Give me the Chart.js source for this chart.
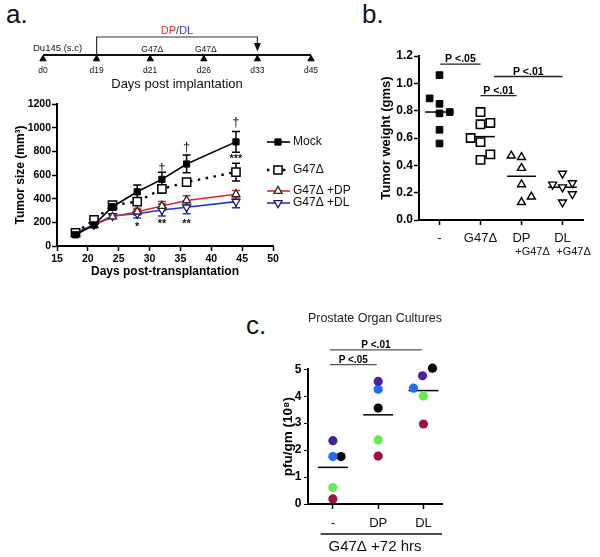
<!DOCTYPE html>
<html>
<head>
<meta charset="utf-8">
<script src="https://cdn.jsdelivr.net/npm/chart.js@4.4.0/dist/chart.umd.min.js"></script>
<style>
html,body{margin:0;padding:0;background:#fff;}
#wrap{position:relative;width:600px;height:557px;overflow:hidden;background:#fff;font-family:'Liberation Sans',Arial,Helvetica,sans-serif;}
#wrap canvas{position:absolute;}
.lab{position:absolute;font-size:26px;line-height:26px;color:#111;white-space:nowrap;}
</style>
</head>
<body>
<div id="wrap">
  <div class="lab" style="left:6px;top:1px">a.</div>
  <div class="lab" style="left:362px;top:1px">b.</div>
  <div class="lab" style="left:246px;top:312px">c.</div>
  <canvas id="tl" width="330" height="92" style="left:0;top:0;width:330px;height:92px"></canvas>
  <canvas id="ca" width="370" height="195" style="left:0;top:90px;width:370px;height:195px"></canvas>
  <canvas id="cb" width="230" height="225" style="left:370px;top:40px;width:230px;height:225px"></canvas>
  <canvas id="cc" width="240" height="257" style="left:240px;top:300px;width:240px;height:257px"></canvas>
</div>
<script>
// ---------------- DATA ----------------
// timeline (schematic)
const timelineDays = ['d0', 'd19', 'd21', 'd26', 'd33', 'd45'];
const timelineEvents = [
  {day: 'd0', text: 'Du145 (s.c)', align: 'left'},
  {day: 'd21', text: 'G47Δ', align: 'center'},
  {day: 'd26', text: 'G47Δ', align: 'center'}
];
const treatmentStart = 'd19';
const treatmentEnd = 'd33';

// panel a: tumor growth
const growthDays = [18, 21, 24, 28, 32, 36, 44];
const mockSize = [95, 178, 332, 458, 563, 693, 880];
const mockErr  = [12, 18, 30, 58, 60, 75, 88];
const g47Size  = [112, 220, 345, 375, 482, 540, 625];
const g47Err   = [12, 22, 25, 30, 35, 28, 75];
const dpSize   = [100, 175, 248, 290, 338, 385, 437];
const dpErr    = [10, 15, 18, 28, 38, 40, 32];
const dlSize   = [112, 180, 255, 272, 304, 327, 375];
const dlErr    = [10, 15, 18, 35, 50, 55, 52];
const growthMarks = [
  {x: 32, y: 655, text: '†'}, {x: 36, y: 835, text: '†'}, {x: 44, y: 1045, text: '†'},
  {x: 44, y: 735, text: '***'}, {x: 28, y: 165, text: '*'},
  {x: 32, y: 190, text: '**'}, {x: 36, y: 190, text: '**'}
];

// panel b: tumor weight
const weightGroups = ['-', 'G47Δ', 'DP', 'DL'];
const weightSubLabels = ['', '', '+G47Δ', '+G47Δ'];
const mockWeight  = [1.06, 0.89, 0.85, 0.78, 0.79, 0.66, 0.56];
const mockWeightX = [1, 0.76, 1, 1, 1.25, 1, 1];
const g47Weight   = [0.79, 0.70, 0.71, 0.60, 0.57, 0.48, 0.44];
const g47WeightX  = [2, 2, 2.24, 1.76, 2, 2.24, 2];
const dpWeight    = [0.47, 0.46, 0.38, 0.26, 0.13, 0.17];
const dpWeightX   = [2.75, 3, 3, 3, 3, 3.24];
const dlWeight    = [0.34, 0.26, 0.27, 0.24, 0.19, 0.13];
const dlWeightX   = [4, 3.76, 4.24, 4, 4.24, 4];
const weightMeans = [0.79, 0.61, 0.32, 0.24];
const weightSig = [
  {from: 1.02, to: 2, y: 1.14, label: 'P <.05'},
  {from: 2.33, to: 4, y: 1.05, label: 'P <.01'},
  {from: 2, to: 2.88, y: 0.91, label: 'P <.01'}
];

// panel c: prostate organ cultures (one colour per donor)
const cultureGroups = ['-', 'DP', 'DL'];
const purpleTiter = [2.35, 4.55, 4.76];
const blueTiter   = [1.76, 4.26, 4.30];
const blackTiter  = [1.76, 3.56, 5.04];
const greenTiter  = [0.61, 2.38, 4.01];
const maroonTiter = [0.19, 1.78, 2.97];
const purpleX = [1, 2, 2.98];
const blueX   = [1, 2, 2.78];
const blackX  = [1.18, 2, 3.2];
const greenX  = [1, 2, 3];
const maroonX = [1, 2, 3];
const titerMeans = [1.36, 3.31, 4.21];
const titerSig = [
  {from: 0.93, to: 2.97, y: 5.72, label: 'P <.01'},
  {from: 0.93, to: 1.97, y: 5.17, label: 'P <.05'}
];

// ---------------- HELPERS ----------------
const FONT = "'Liberation Sans', Arial, Helvetica, sans-serif";
Chart.defaults.font.family = FONT;
Chart.defaults.color = '#000';
const pts = (xs, ys) => xs.map((x, i) => ({x: x, y: ys[i]}));
const base = {responsive: false, animation: false, devicePixelRatio: 1, events: []};
const plain = v => String(v);

function meanLines(means, half) {
  return {id: 'means', beforeDatasetsDraw(chart) {
    const {ctx, scales: {x, y}} = chart;
    ctx.save(); ctx.strokeStyle = '#000'; ctx.lineWidth = 1.5;
    means.forEach((m, i) => {
      const yy = y.getPixelForValue(m);
      ctx.beginPath();
      ctx.moveTo(x.getPixelForValue(i + 1 - half), yy);
      ctx.lineTo(x.getPixelForValue(i + 1 + half), yy);
      ctx.stroke();
    });
    ctx.restore();
  }};
}
function sigBars(list, color, size) {
  return {id: 'sig', afterDraw(chart) {
    const {ctx, scales: {x, y}} = chart;
    ctx.save();
    list.forEach(s => {
      const yy = y.getPixelForValue(s.y);
      const x0 = x.getPixelForValue(s.from), x1 = x.getPixelForValue(s.to);
      ctx.strokeStyle = color; ctx.lineWidth = 1.3;
      ctx.beginPath(); ctx.moveTo(x0, yy); ctx.lineTo(x1, yy); ctx.stroke();
      ctx.fillStyle = '#000'; ctx.font = 'bold ' + size + 'px ' + FONT;
      ctx.textAlign = 'center'; ctx.textBaseline = 'alphabetic';
      ctx.fillText(s.label, (x0 + x1) / 2, yy - 2);
    });
    ctx.restore();
  }};
}

// ---------------- TIMELINE ----------------
const timelinePlugin = {
  id: 'timeline',
  beforeDatasetsDraw(chart) {
    const {ctx, scales: {x, y}} = chart;
    const px = d => x.getPixelForValue(timelineDays.indexOf(d));
    const line = y.getPixelForValue(0) - 4;
    ctx.save();
    ctx.strokeStyle = '#111'; ctx.lineWidth = 2;
    ctx.beginPath();
    ctx.moveTo(px(timelineDays[0]), line);
    ctx.lineTo(px(timelineDays[timelineDays.length - 1]), line);
    ctx.stroke();
    // treatment bracket
    const top = line - 18, xs = px(treatmentStart), xe = px(treatmentEnd);
    ctx.strokeStyle = '#333'; ctx.lineWidth = 1.2;
    ctx.beginPath();
    ctx.moveTo(xs, line); ctx.lineTo(xs, top); ctx.lineTo(xe, top); ctx.lineTo(xe, line - 8);
    ctx.stroke();
    ctx.fillStyle = '#111';
    ctx.beginPath(); ctx.moveTo(xe - 3.5, line - 12); ctx.lineTo(xe + 3.5, line - 12); ctx.lineTo(xe, line - 3.5); ctx.closePath(); ctx.fill();
    // DP/DL label
    ctx.font = '11px ' + FONT; ctx.textBaseline = 'middle'; ctx.textAlign = 'left';
    const parts = [['DP', '#e3262b'], ['/', '#333'], ['DL', '#2b3fd4']];
    const total = parts.reduce((s, p) => s + ctx.measureText(p[0]).width, 0);
    let cx = (xs + xe) / 2 - total / 2;
    parts.forEach(p => { ctx.fillStyle = p[1]; ctx.fillText(p[0], cx, top - 6); cx += ctx.measureText(p[0]).width; });
    // event labels
    ctx.fillStyle = '#111';
    timelineEvents.forEach(e => {
      if (e.align === 'left') {
        ctx.font = '9.5px ' + FONT; ctx.textAlign = 'left';
        ctx.fillText(e.text, px(e.day) - 10, line - 7);
      } else {
        ctx.font = '8.5px ' + FONT; ctx.textAlign = 'center';
        ctx.fillText(e.text, px(e.day) + 2, line - 5);
      }
    });
    ctx.restore();
  }
};
new Chart(document.getElementById('tl'), {
  type: 'line',
  data: {labels: timelineDays, datasets: [{
    data: timelineDays.map(() => 0), showLine: false, clip: false,
    pointStyle: 'triangle', pointRadius: 3.6, pointBackgroundColor: '#000', pointBorderColor: '#000', pointBorderWidth: 1
  }]},
  options: Object.assign({}, base, {
    layout: {padding: {left: 43, right: 19, top: 40, bottom: 0}},
    plugins: {legend: {display: false}, tooltip: {enabled: false}},
    scales: {
      x: {type: 'category', offset: false,
          grid: {display: false, drawTicks: false}, border: {display: false},
          ticks: {font: {size: 8.5}, padding: 6.6, maxRotation: 0, autoSkip: false, color: '#111'},
          title: {display: true, text: 'Days post implantation', font: {size: 13}, color: '#111', padding: {top: 0, bottom: 0}},
          afterFit(s) { s.height = 33; }},
      y: {display: false, min: 0, max: 1}
    }
  }),
  plugins: [timelinePlugin]
});

// ---------------- PANEL A ----------------
const errorBars = {
  id: 'errorBars',
  beforeDatasetsDraw(chart) {
    const {ctx, scales: {x, y}} = chart;
    chart.data.datasets.forEach(ds => {
      ctx.save(); ctx.strokeStyle = ds.errColor; ctx.lineWidth = 1.5;
      ds.data.forEach((p, j) => {
        const xx = x.getPixelForValue(p.x);
        const y0 = y.getPixelForValue(p.y - ds.errValues[j]);
        const y1 = y.getPixelForValue(p.y + ds.errValues[j]);
        ctx.beginPath();
        ctx.moveTo(xx, y0); ctx.lineTo(xx, y1);
        ctx.moveTo(xx - 4, y0); ctx.lineTo(xx + 4, y0);
        ctx.moveTo(xx - 4, y1); ctx.lineTo(xx + 4, y1);
        ctx.stroke();
      });
      ctx.restore();
    });
  }
};
const growthMarkPlugin = {
  id: 'growthMarks',
  afterDatasetsDraw(chart) {
    const {ctx, scales: {x, y}} = chart;
    ctx.save(); ctx.fillStyle = '#111'; ctx.textAlign = 'center'; ctx.textBaseline = 'middle';
    growthMarks.forEach(m => {
      ctx.font = (m.text === '†' ? '13px ' : 'bold 11px ') + FONT;
      ctx.fillText(m.text, x.getPixelForValue(m.x), y.getPixelForValue(m.y));
    });
    ctx.restore();
  }
};
const legendA = {
  id: 'legendA',
  afterDraw(chart) {
    const ctx = chart.ctx;
    const rows = [52, 80, 101, 113];
    chart.data.datasets.forEach((ds, i) => {
      const yy = rows[i];
      ctx.save();
      ctx.strokeStyle = ds.borderColor; ctx.lineWidth = ds.borderWidth;
      ctx.setLineDash(ds.borderDash || []);
      ctx.beginPath(); ctx.moveTo(267, yy); ctx.lineTo(290, yy); ctx.stroke();
      ctx.setLineDash([]);
      ctx.fillStyle = ds.pointBackgroundColor; ctx.strokeStyle = ds.pointBorderColor; ctx.lineWidth = ds.pointBorderWidth;
      Chart.helpers.drawPoint(ctx, {pointStyle: ds.pointStyle, rotation: ds.pointRotation || 0, radius: ds.pointRadius, borderWidth: ds.pointBorderWidth}, 278, yy);
      ctx.fillStyle = '#111'; ctx.font = '12px ' + FONT; ctx.textBaseline = 'middle'; ctx.textAlign = 'left';
      ctx.fillText(ds.label, 293, yy);
      ctx.restore();
    });
  }
};
const axisA = (extra) => Object.assign({
  grid: {drawOnChartArea: false, color: '#000', tickLength: 5, tickWidth: 1.5},
  border: {color: '#000', width: 2}
}, extra);
new Chart(document.getElementById('ca'), {
  type: 'line',
  data: {datasets: [
    {label: 'Mock', data: pts(growthDays, mockSize), errValues: mockErr, errColor: '#000',
     borderColor: '#000', borderWidth: 1.6, pointStyle: 'rect', pointRadius: 4.4,
     pointBackgroundColor: '#000', pointBorderColor: '#000', pointBorderWidth: 1, clip: false},
    {label: 'G47Δ', data: pts(growthDays, g47Size), errValues: g47Err, errColor: '#000',
     borderColor: '#000', borderWidth: 2.4, borderDash: [2.4, 5.6], pointStyle: 'rect', pointRadius: 5.8,
     pointBackgroundColor: '#fff', pointBorderColor: '#000', pointBorderWidth: 1.5, clip: false},
    {label: 'G47Δ +DP', data: pts(growthDays, dpSize), errValues: dpErr, errColor: '#e3262b',
     borderColor: '#e3262b', borderWidth: 1.6, pointStyle: 'triangle', pointRadius: 4.6,
     pointBackgroundColor: '#fff', pointBorderColor: '#2a2a2a', pointBorderWidth: 1.3, clip: false},
    {label: 'G47Δ +DL', data: pts(growthDays, dlSize), errValues: dlErr, errColor: '#2233d6',
     borderColor: '#2233d6', borderWidth: 1.6, pointStyle: 'triangle', pointRotation: 180, pointRadius: 4.6,
     pointBackgroundColor: '#fff', pointBorderColor: '#1a1a6a', pointBorderWidth: 1.3, clip: false}
  ]},
  options: Object.assign({}, base, {
    layout: {padding: {left: 0, top: 14, right: 97, bottom: 0}},
    plugins: {legend: {display: false}, tooltip: {enabled: false}},
    scales: {
      x: axisA({type: 'linear', min: 15, max: 50,
        ticks: {stepSize: 5, font: {size: 10.5, weight: 'bold'}, padding: 2, color: '#000', maxRotation: 0, callback: plain},
        title: {display: true, text: 'Days post-transplantation', font: {size: 12, weight: 'bold'}, color: '#000', padding: {top: 0, bottom: 6}},
        afterFit(s) { s.height = 39; }}),
      y: axisA({min: 0, max: 1200,
        ticks: {stepSize: 200, font: {size: 10.5, weight: 'bold'}, padding: 1, color: '#000', callback: plain},
        title: {display: true, text: 'Tumor size (mm³)', font: {size: 12, weight: 'bold'}, color: '#000', padding: {top: 13, bottom: 0}},
        afterFit(s) { s.width = 57; }})
    }
  }),
  plugins: [errorBars, growthMarkPlugin, legendA]
});

// ---------------- PANEL B ----------------
const subLabelPlugin = {
  id: 'subLabels',
  afterDraw(chart) {
    const {ctx, scales: {x}, chartArea} = chart;
    ctx.save(); ctx.fillStyle = '#111'; ctx.font = '11px ' + FONT; ctx.textAlign = 'center'; ctx.textBaseline = 'middle';
    weightSubLabels.forEach((t, i) => { if (t) ctx.fillText(t, x.getPixelForValue(i + 1) + 11, chartArea.bottom + 32); });
    ctx.restore();
  }
};
new Chart(document.getElementById('cb'), {
  type: 'scatter',
  data: {datasets: [
    {label: '-', data: pts(mockWeightX, mockWeight), pointStyle: 'rect', pointRadius: 4.7,
     backgroundColor: '#000', borderColor: '#000', borderWidth: 1, clip: false},
    {label: 'G47Δ', data: pts(g47WeightX, g47Weight), pointStyle: 'rect', pointRadius: 5.9,
     backgroundColor: '#fff', borderColor: '#000', borderWidth: 1.6, clip: false},
    {label: 'DP', data: pts(dpWeightX, dpWeight), pointStyle: 'triangle', pointRadius: 4.6,
     backgroundColor: '#fff', borderColor: '#000', borderWidth: 1.4, clip: false},
    {label: 'DL', data: pts(dlWeightX, dlWeight), pointStyle: 'triangle', rotation: 180, pointRadius: 4.6,
     backgroundColor: '#fff', borderColor: '#000', borderWidth: 1.4, clip: false}
  ]},
  options: Object.assign({}, base, {
    layout: {padding: {left: 0, top: 16, right: 17, bottom: 0}},
    plugins: {legend: {display: false}, tooltip: {enabled: false}},
    scales: {
      x: axisA({type: 'linear', min: 0.5, max: 4.5,
        afterBuildTicks(s) { s.ticks = weightGroups.map((g, i) => ({value: i + 1})); },
        ticks: {autoSkip: false, maxRotation: 0, font: {size: 13}, color: '#111', padding: 5.2,
                callback: (v, i) => weightGroups[i]},
        afterFit(s) { s.height = 45; }}),
      y: axisA({min: 0, max: 1.2,
        ticks: {stepSize: 0.2, font: {size: 12, weight: 'bold'}, padding: 1, color: '#000', callback: v => Number(v).toFixed(1)},
        title: {display: true, text: 'Tumor weight (gms)', font: {size: 13, weight: 'bold'}, color: '#000', padding: {top: 9, bottom: 0}},
        afterFit(s) { s.width = 49; }})
    }
  }),
  plugins: [meanLines(weightMeans, 0.35), sigBars(weightSig, '#222', 10.5), subLabelPlugin]
});

// ---------------- PANEL C ----------------
const bracketC = {
  id: 'bracketC',
  afterDraw(chart) {
    const {ctx, scales: {x}, chartArea} = chart;
    ctx.save(); ctx.strokeStyle = '#111'; ctx.lineWidth = 1.3;
    ctx.beginPath();
    ctx.moveTo(x.getPixelForValue(0.73), chartArea.bottom + 30);
    ctx.lineTo(x.getPixelForValue(3.41), chartArea.bottom + 30);
    ctx.stroke();
    ctx.restore();
  }
};
const dot = (label, xs, ys, color) => ({label: label, data: pts(xs, ys), pointStyle: 'circle', pointRadius: 4.6,
  backgroundColor: color, borderColor: color, borderWidth: 0, clip: false});
new Chart(document.getElementById('cc'), {
  type: 'scatter',
  data: {datasets: [
    dot('purple', purpleX, purpleTiter, '#4a22a0'),
    dot('blue', blueX, blueTiter, '#1f6cf5'),
    dot('black', blackX, blackTiter, '#050505'),
    dot('green', greenX, greenTiter, '#5ef04a'),
    dot('maroon', maroonX, maroonTiter, '#a3123f')
  ]},
  options: Object.assign({}, base, {
    layout: {padding: {left: 0, top: 0, right: 38, bottom: 0}},
    plugins: {
      legend: {display: false}, tooltip: {enabled: false},
      title: {display: true, fullSize: false, text: 'Prostate Organ Cultures', font: {size: 13, weight: 'normal'}, color: '#222',
              padding: {top: 11, bottom: 42.7}}
    },
    scales: {
      x: axisA({type: 'linear', min: 0.45, max: 3.41,
        afterBuildTicks(s) { s.ticks = cultureGroups.map((g, i) => ({value: i + 1})); },
        ticks: {autoSkip: false, maxRotation: 0, font: {size: 13}, color: '#111', padding: 6.2,
                callback: (v, i) => cultureGroups[i]},
        title: {display: true, text: 'G47Δ +72 hrs', font: {size: 15}, color: '#111', padding: {top: 0, bottom: 1}},
        afterFit(s) { s.height = 53; }}),
      y: axisA({min: 0, max: 5,
        grid: {drawOnChartArea: false, color: '#000', tickLength: 4, tickWidth: 1},
        ticks: {stepSize: 1, font: {size: 12, weight: 'bold'}, padding: 2.5, color: '#000', callback: plain},
        title: {display: true, text: 'pfu/gm (10⁸)', font: {size: 13.5, weight: 'bold'}, color: '#000', padding: {top: 40, bottom: 0}},
        afterFit(s) { s.width = 68; }})
    }
  }),
  plugins: [meanLines(titerMeans, 0.33), sigBars(titerSig, '#555', 10), bracketC]
});
</script>
</body>
</html>
